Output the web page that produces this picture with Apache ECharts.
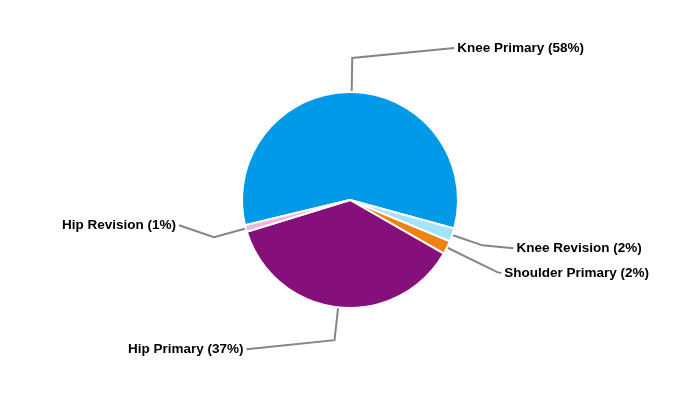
<!DOCTYPE html>
<html>
<head>
<meta charset="utf-8">
<script src="https://cdn.jsdelivr.net/npm/echarts@6/dist/echarts.min.js"></script>
<style>html,body{margin:0;padding:0;background:#fff;}#c{width:700px;height:400px;}</style>
</head>
<body>
<div id="c"></div>
<script>
const categories = ['Knee Primary', 'Knee Revision', 'Shoulder Primary', 'Hip Primary', 'Hip Revision'];
const values = [58, 2, 2, 37, 1];
const colors = ['#009ae8', '#a4e4fa', '#f08210', '#86107b', '#f0b2e0'];
const lineLen = [34, 32, 56, 33, 33];
const lineLen2 = [102, 31, 4, 88, 35];
const labelShift = [-10, 3, 1, 9, -12];

const chart = echarts.init(document.getElementById('c'), null, {renderer: 'canvas'});
chart.setOption({
  animation: false,
  series: [{
    type: 'pie',
    center: ['50%', '50%'],
    radius: 108,
    startAngle: 193.5,
    clockwise: true,
    avoidLabelOverlap: false,
    itemStyle: { borderColor: '#ffffff', borderWidth: 2 },
    label: {
      show: true,
      formatter: '{b} ({d}%)',
      color: '#000',
      fontFamily: 'Liberation Sans, Arial, sans-serif',
      fontWeight: 'bold',
      fontSize: 13.5,
      distanceToLabelLine: 3
    },
    labelLine: { show: true, lineStyle: { color: '#858585', width: 2 } },
    labelLayout: function (params) {
      const dy = labelShift[params.dataIndex] || 0;
      const pts = (params.labelLinePoints || []).map(p => [p[0], p[1]]);
      if (pts.length === 3) pts[2][1] += dy;
      return { dy: dy, labelLinePoints: pts };
    },
    emphasis: { disabled: true },
    data: categories.map((c, i) => ({
      name: c,
      value: values[i],
      itemStyle: { color: colors[i] },
      labelLine: { length: lineLen[i], length2: lineLen2[i] }
    }))
  }]
});
</script>
</body>
</html>
